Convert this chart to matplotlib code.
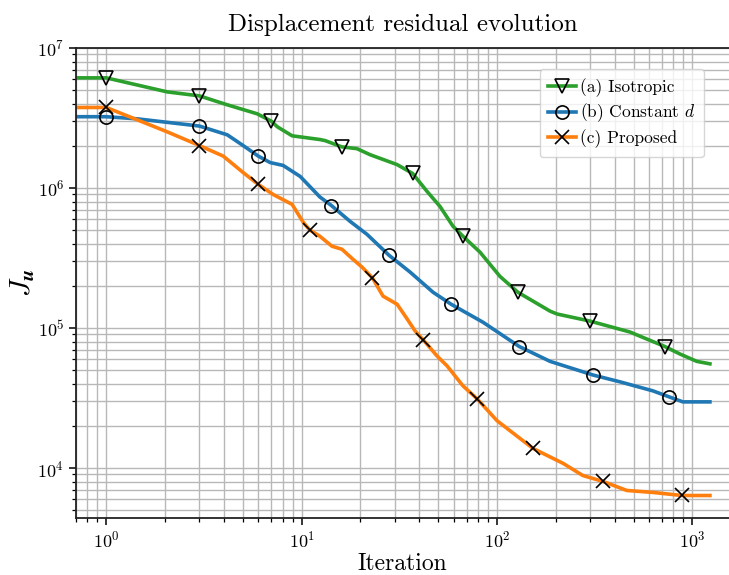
import numpy as np
import matplotlib
matplotlib.use("Agg")
import matplotlib.pyplot as plt

plt.rcParams['mathtext.fontset'] = 'cm'
plt.rcParams['font.family'] = ['cmr10', 'DejaVu Serif']
plt.rcParams['axes.formatter.use_mathtext'] = True

# ---- data ----
iso_iter = [0, 1, 2.05, 3, 4.16, 5.92, 7, 7.5, 8.94, 12.4, 13.2, 16, 19.2, 22.4, 30.8, 37,
            43.9, 51.1, 59.6, 67, 81.9, 103.5, 128, 187, 203, 300, 479, 723, 863, 1054, 1230]
iso_vals = [6.12e6, 6.12e6, 4.86e6, 4.55e6, 3.93e6, 3.39e6, 3.0e6, 2.74e6, 2.36e6, 2.22e6, 2.18e6,
            1.97e6, 1.91e6, 1.73e6, 1.47e6, 1.27e6, 9.44e5, 7.38e5, 5.32e5, 4.52e5, 3.48e5,
            2.34e5, 1.80e5, 1.32e5, 1.26e5, 1.12e5, 9.37e4, 7.38e4, 6.53e4, 5.78e4, 5.55e4]
iso_marks = [1, 3, 7, 16, 37, 67, 128, 300, 723]

const_iter = [0, 1, 1.44, 2.12, 3, 4.16, 5.02, 6, 6.9, 8.04, 9.83, 12.4, 14.2, 17.7, 21.6, 28,
              35.9, 47.1, 58.2, 84.8, 130, 187, 310, 426, 628, 758, 894, 1230]
const_vals = [3.23e6, 3.23e6, 3.12e6, 2.93e6, 2.77e6, 2.40e6, 2.01e6, 1.69e6, 1.52e6, 1.45e6,
              1.21e6, 8.63e5, 7.50e5, 5.78e5, 4.67e5, 3.31e5, 2.51e5, 1.80e5, 1.48e5, 1.10e5,
              7.38e4, 5.78e4, 4.62e4, 4.13e4, 3.56e4, 3.23e4, 2.97e4, 2.97e4]
const_marks = [1, 3, 6, 14.2, 28, 58.2, 130, 310, 758]

prop_iter = [0, 1, 1.44, 2.05, 3, 3.97, 5.02, 6, 7.15, 8.94, 10.2, 11, 12.4, 14.3, 16.1, 18.3,
             20.4, 23, 26.1, 30.8, 34.7, 38.1, 41.8, 49.3, 55.5, 67, 79, 100, 126, 153, 218,
             275, 349, 462, 628, 884, 1230]
prop_vals = [3.76e6, 3.76e6, 3.07e6, 2.52e6, 2.01e6, 1.69e6, 1.29e6, 1.06e6, 8.99e5, 7.64e5,
             5.68e5, 5.02e5, 4.52e5, 3.84e5, 3.65e5, 3.10e5, 2.72e5, 2.29e5, 1.69e5, 1.48e5,
             1.16e5, 9.52e4, 8.28e4, 6.32e4, 5.37e4, 3.86e4, 3.13e4, 2.18e4, 1.70e4, 1.38e4,
             1.08e4, 8.85e3, 8.02e3, 6.92e3, 6.70e3, 6.37e3, 6.37e3]
prop_marks = [1, 3, 6, 11, 23, 41.8, 79, 153, 349, 884]

labels = ["(a) Isotropic", "(b) Constant $d$", "(c) Proposed"]
colors = ["#2ca02c", "#1f77b4", "#ff7f0e"]
markers = ["v", "o", "x"]

fig = plt.figure(figsize=(7.29, 5.75), dpi=100)
ax = fig.add_axes([76/729, 57/575, 653/729, 470/575])
ax.set_xscale('log')
ax.set_yscale('log')

series = [(iso_iter, iso_vals, iso_marks), (const_iter, const_vals, const_marks),
          (prop_iter, prop_vals, prop_marks)]
for (it, vals, marks), lab, c, m in zip(series, labels, colors, markers):
    idx = [it.index(k) for k in marks]
    ax.plot(it, vals, color=c, lw=2.6, label=lab, marker=m, markevery=idx,
            markersize=9.5, markerfacecolor='none', markeredgecolor='black',
            markeredgewidth=1.2)

ax.set_xlim(0.7, 1540)
ax.set_ylim(4.4e3, 1e7)
ax.grid(True, which='both', color='#b8b8b8', lw=1.0)
ax.set_axisbelow(True)
for s in ['left', 'bottom', 'top']:
    ax.spines[s].set_color('#222222')
    ax.spines[s].set_linewidth(1.3)
ax.spines['right'].set_visible(False)
ax.tick_params(which='both', direction='out', top=False, right=False, labelsize=13)
ax.tick_params(which='major', length=5, width=1.1)
ax.tick_params(which='minor', length=3, width=0.9)

ax.set_title("Displacement residual evolution", fontsize=18, pad=12)
ax.set_xlabel("Iteration", fontsize=17, labelpad=2)
ax.set_ylabel(r"$J_{\mathbfit{u}}$", fontsize=21, labelpad=0)

leg = ax.legend(loc='upper right', bbox_to_anchor=(0.961, 0.955), borderaxespad=0,
                fontsize=12.5, handlelength=1.6, handletextpad=0.2, framealpha=0.8,
                labelspacing=0.3, borderpad=0.5)

fig.savefig("out.png", dpi=100)
